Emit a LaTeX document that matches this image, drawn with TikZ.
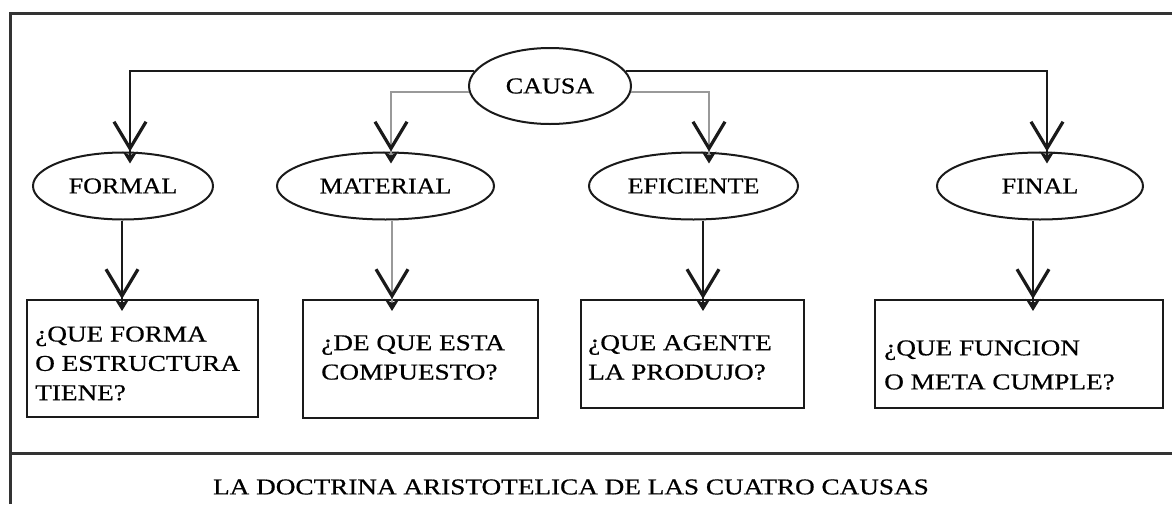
\documentclass[tikz,border=0pt]{standalone}
\usepackage{fontspec}
\setmainfont{Liberation Serif}
\newfontfamily\elfont[FakeStretch=1.15,FakeBold=0.6]{Liberation Serif}
\newfontfamily\bxfont[FakeStretch=1.2,FakeBold=0.6]{Liberation Serif}
\usetikzlibrary{arrows.meta,calc,shapes.geometric}
\definecolor{frame}{HTML}{333333}
\definecolor{ink}{HTML}{1A1A1A}
\definecolor{lgray}{HTML}{999999}
\tikzset{
  ell/.style={ellipse, draw=ink, line width=1.5pt, inner sep=0pt,
    font=\elfont\fontsize{17}{20}\selectfont},
  bx/.style={rectangle, draw=ink, line width=1.5pt, inner sep=0pt},
  btxt/.style={anchor=west, align=left, inner sep=0pt,
    font=\bxfont\fontsize{17}{22}\selectfont},
  conn/.style={line width=1.5pt, draw=ink,
    -{Straight Barb[length=20pt,width=24pt,line width=2.4pt,color=ink]
      Stealth[length=9pt,width=11pt,color=ink,sep=-9pt]}},
  gconn/.style={conn, draw=lgray},
  framel/.style={line width=2.25pt, draw=frame},
}
\begin{document}
\begin{tikzpicture}[x=0.75pt,y=-0.75pt]
\useasboundingbox (0,0) rectangle (1172,504);
% frame
\draw[framel] (10,504) -- (10,13) -- (1172,13);
\draw[framel] (10,453) -- (1172,453);
% ellipses
\node[ell, minimum width=121.5pt, minimum height=57pt] (causa) at (550,86) {CAUSA};
\node[ell, minimum width=135pt, minimum height=50.25pt] (formal) at (123,186) {FORMAL};
\node[ell, minimum width=162.75pt, minimum height=50.25pt] (material) at (385.5,186) {MATERIAL};
\node[ell, minimum width=156.75pt, minimum height=50.25pt] (eficiente) at (693.5,186) {EFICIENTE};
\node[ell, minimum width=154.5pt, minimum height=50.25pt] (final) at (1040,186) {FINAL};
% boxes
\node[bx, minimum width=173.25pt, minimum height=87.75pt] (b1) at (142.5,358.5) {};
\node[bx, minimum width=176.25pt, minimum height=88.5pt] (b2) at (420.5,359) {};
\node[bx, minimum width=167.25pt, minimum height=81pt] (b3) at (692.5,354) {};
\node[bx, minimum width=216pt, minimum height=81pt] (b4) at (1019,354) {};
% box texts
\node[btxt] (t1) at (35,363.5) {¿QUE FORMA\\O ESTRUCTURA\\TIENE?};
\node[btxt] (t2) at (321,357.5) {¿DE QUE ESTA\\COMPUESTO?};
\node[btxt] (t3) at (588,357.5) {¿QUE AGENTE\\LA PRODUJO?};
\node[btxt, font=\bxfont\fontsize{17}{25.5}\selectfont] (t4) at (884,365) {¿QUE FUNCION\\O META CUMPLE?};
% title
\node[inner sep=0pt, font=\bxfont\fontsize{17}{20}\selectfont] (title) at (571,487)
  {LA DOCTRINA ARISTOTELICA DE LAS CUATRO CAUSAS};
% connectors from CAUSA
\draw[conn] (causa.169) -| ($(formal.north)+(7,0)$);
\draw[conn] (causa.11) -| ($(final.north)+(7,0)$);
\draw[gconn] (causa.184) -| ($(material.north)+(5.5,0)$);
\draw[gconn] (causa.-4) -| ($(eficiente.north)+(15.5,0)$);
% connectors to boxes
\coordinate (fs) at ($(formal.south)+(-1,0)$);
\coordinate (ms) at ($(material.south)+(6.5,0)$);
\coordinate (es) at ($(eficiente.south)+(9.5,0)$);
\coordinate (ns) at ($(final.south)+(-7,0)$);
\draw[conn] (fs) -- (fs |- b1.north);
\draw[gconn] (ms) -- (ms |- b2.north);
\draw[conn] (es) -- (es |- b3.north);
\draw[conn] (ns) -- (ns |- b4.north);
\end{tikzpicture}
\end{document}
